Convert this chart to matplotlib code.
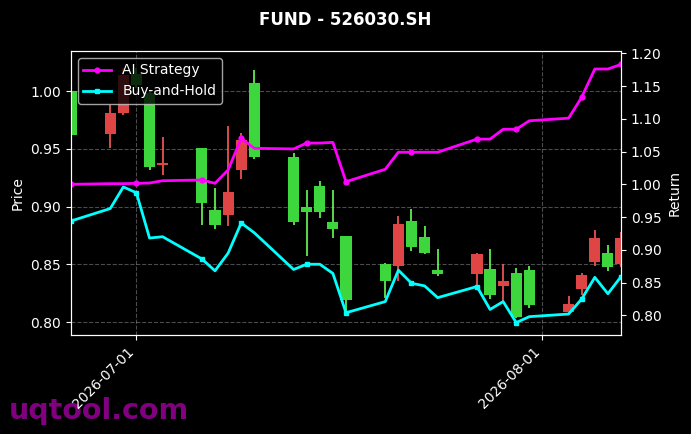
import numpy as np
import pandas as pd
import matplotlib
matplotlib.use("Agg")
import matplotlib.pyplot as plt
import matplotlib.dates as mdates

# trading days
dates = pd.to_datetime([
    "2026-06-26", "2026-06-29", "2026-06-30", "2026-07-01", "2026-07-02", "2026-07-03",
    "2026-07-06", "2026-07-07", "2026-07-08", "2026-07-09", "2026-07-10",
    "2026-07-13", "2026-07-14", "2026-07-15", "2026-07-16", "2026-07-17",
    "2026-07-20", "2026-07-21", "2026-07-22", "2026-07-23", "2026-07-24",
    "2026-07-27", "2026-07-28", "2026-07-29", "2026-07-30", "2026-07-31",
    "2026-08-03", "2026-08-04", "2026-08-05", "2026-08-06", "2026-08-07",
])

opens = [1.000, 0.963, 0.981, 1.015, 0.998, 0.936,
         0.951, 0.897, 0.893, 0.932, 1.007,
         0.943, 0.900, 0.918, 0.887, 0.875,
         0.850, 0.849, 0.888, 0.874, 0.845,
         0.842, 0.846, 0.831, 0.843, 0.845,
         0.809, 0.829, 0.852, 0.860, 0.850]
closes = [0.962, 0.981, 1.014, 1.005, 0.934, 0.937,
          0.903, 0.884, 0.913, 0.958, 0.943,
          0.887, 0.895, 0.895, 0.881, 0.819,
          0.836, 0.885, 0.865, 0.860, 0.842,
          0.859, 0.824, 0.836, 0.805, 0.815,
          0.816, 0.841, 0.873, 0.848, 0.873]
highs = [1.005, 0.988, 1.020, 1.020, 1.000, 0.960,
         0.951, 0.916, 0.970, 0.964, 1.018,
         0.946, 0.914, 0.922, 0.914, 0.875,
         0.851, 0.892, 0.898, 0.883, 0.863,
         0.860, 0.863, 0.850, 0.847, 0.849,
         0.823, 0.843, 0.880, 0.867, 0.878]
lows = [0.958, 0.951, 0.979, 1.003, 0.932, 0.927,
        0.884, 0.881, 0.883, 0.924, 0.941,
        0.884, 0.857, 0.890, 0.873, 0.810,
        0.821, 0.836, 0.862, 0.859, 0.840,
        0.832, 0.820, 0.818, 0.804, 0.812,
        0.807, 0.824, 0.849, 0.844, 0.848]

ai_strategy = [1.000, 1.001, 1.001, 1.0015, 1.002, 1.0055,
               1.0066, 1.0015, 1.022, 1.070, 1.055,
               1.054, 1.063, 1.063, 1.064, 1.004,
               1.023, 1.049, 1.049, 1.049, 1.049,
               1.069, 1.069, 1.084, 1.084, 1.097,
               1.101, 1.133, 1.176, 1.176, 1.183]
buy_hold = [0.944, 0.963, 0.996, 0.987, 0.918, 0.920,
            0.886, 0.868, 0.895, 0.941, 0.926,
            0.870, 0.878, 0.878, 0.864, 0.804,
            0.821, 0.869, 0.849, 0.845, 0.827,
            0.844, 0.809, 0.821, 0.789, 0.798,
            0.802, 0.825, 0.858, 0.833, 0.859]

plt.style.use("dark_background")
fig = plt.figure(figsize=(6.91, 4.34), dpi=100)
ax1 = fig.add_axes([0.1027, 0.2281, 0.796, 0.6544])
ax2 = ax1.twinx()

# candles (red = up, green = down)
up_col = "#e04545"
down_col = "#3dd63d"
for d, o, c, h, l in zip(dates, opens, closes, highs, lows):
    col = up_col if c >= o else down_col
    wick = "#ff5a5a" if c >= o else "#66ff55"
    ax1.vlines(d, l, h, color=wick, linewidth=1.2, zorder=2)
    ax1.bar(d, max(abs(c - o), 0.0015), bottom=min(o, c), width=0.85,
            color=col, zorder=3)

ax1.set_xlim(dates[0], dates[-1])
ax1.set_ylim(0.789, 1.0346)
ax1.set_ylabel("Price")
ax1.grid(True, linestyle="--", alpha=0.3)
ax1.xaxis.set_major_locator(mdates.MonthLocator())
ax1.xaxis.set_major_formatter(mdates.DateFormatter("%Y-%m-%d"))
plt.setp(ax1.get_xticklabels(), rotation=45, ha="right")

ax2.plot(dates, ai_strategy, color="#ff00ff", linewidth=2, marker="o",
         markersize=3.5, markevery=3, label="AI Strategy")
ax2.plot(dates, buy_hold, color="#00ffff", linewidth=2, marker="s",
         markersize=3.5, markevery=3, label="Buy-and-Hold")
ax2.set_ylim(0.77, 1.2035)
ax2.set_yticks(np.arange(0.80, 1.201, 0.05))
ax2.set_ylabel("Return")
ax2.legend(loc="upper left")

fig.suptitle("FUND - 526030.SH", fontsize=12, fontweight="bold", y=0.975)
fig.text(0.013, 0.035, "uqtool.com", color="#800080", fontsize=20.5,
         fontweight="bold", zorder=-1)

fig.savefig("out.png", dpi=100)
